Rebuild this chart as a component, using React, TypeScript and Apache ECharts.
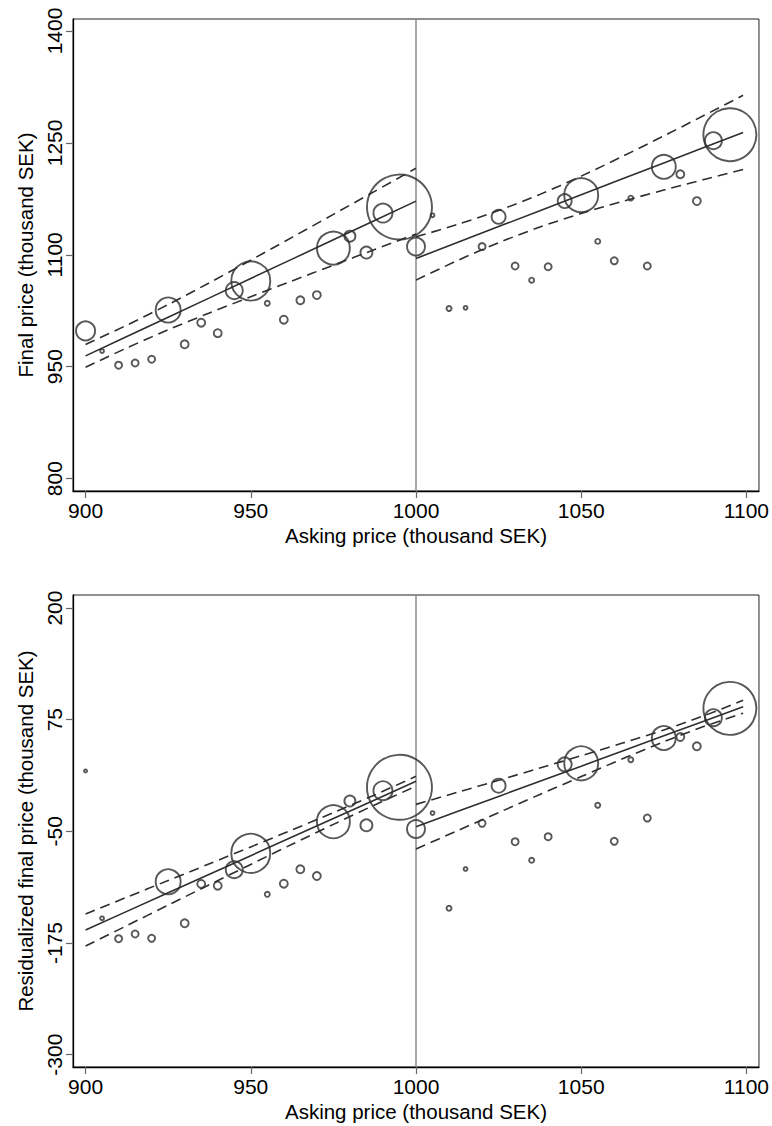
import React, { useEffect, useRef } from "react";
import * as echarts from "echarts";

// Bin midpoints of asking price (thousand SEK)
const xBins = [
  900, 905, 910, 915, 920, 925, 930, 935, 940, 945,
  950, 955, 960, 965, 970, 975, 980, 985, 990, 995,
  1000, 1005, 1010, 1015, 1020, 1025, 1030, 1035, 1040, 1045,
  1050, 1055, 1060, 1065, 1070, 1075, 1080, 1085, 1090, 1095,
];

// Mean final price per bin (top panel)
const finalPrice = [
  998, 971, 952, 955, 960, 1026, 980, 1009, 995, 1052,
  1065, 1035, 1013, 1039, 1046, 1109, 1125, 1103, 1156, 1164,
  1111, 1153, 1028, 1029, 1111, 1151, 1085, 1066, 1084, 1172,
  1180, 1118, 1092, 1176, 1085, 1218, 1208, 1172, 1253, 1261,
];

// Mean residualized final price per bin (bottom panel)
const residPrice = [
  17.6, -147.3, -170.2, -164.9, -169.7, -106.4, -152.9, -108.9, -110.8, -92.9,
  -74.6, -120.5, -108.6, -92.5, -100, -39.2, -16, -43.2, -4.5, -0.7,
  -47.4, -29.5, -136.1, -92.1, -41, 1.1, -61.6, -82.4, -56, 25,
  26.2, -20.8, -61.1, 30.2, -35.1, 54.5, 55.6, 45.2, 77.2, 87.7,
];

// Number of sales per bin (marker weight)
const countsTop = [
  81, 2, 9, 9, 9, 144, 12, 12, 12, 64,
  361, 4, 12, 12, 12, 256, 25, 30, 81, 1024,
  72, 2, 4, 2, 9, 42, 9, 4, 9, 42,
  272, 4, 9, 4, 9, 132, 12, 12, 64, 676,
];
const countsBottom = [
  1, 2, 9, 9, 9, 144, 12, 12, 12, 64,
  361, 4, 12, 12, 12, 256, 25, 30, 81, 1024,
  72, 2, 4, 2, 9, 42, 9, 4, 9, 42,
  272, 4, 9, 4, 9, 132, 12, 12, 64, 676,
];

// Linear fits with confidence bands, below and above 1000
const fitXLeft = [900, 912.5, 925, 937.5, 950, 962.5, 975, 987.5, 1000];
const fitXRight = [1000, 1012.5, 1025, 1037.5, 1050, 1062.5, 1075, 1087.5, 1099];

const topFitLeft = [964.5, 990.4, 1016.4, 1042.3, 1068.3, 1094.2, 1120.1, 1146.1, 1172];
const topUpperLeft = [979.8, 1005.7, 1033.3, 1062.6, 1092.8, 1123.4, 1154.2, 1185.1, 1216];
const topLowerLeft = [949.2, 975.2, 999.5, 1022.1, 1043.8, 1065, 1086.1, 1107.1, 1128];
const topFitRight = [1095.1, 1116.4, 1137.8, 1159.1, 1180.5, 1201.8, 1223.1, 1244.5, 1264.1];
const topUpperRight = [1124.1, 1140.6, 1159.4, 1181, 1205.5, 1231.9, 1259.4, 1287.6, 1313.8];
const topLowerRight = [1066.1, 1092.2, 1116.2, 1137.2, 1155.5, 1171.7, 1186.8, 1201.4, 1214.4];

const botFitLeft = [-160.4, -139.6, -118.8, -98.0, -77.2, -56.4, -35.6, -14.8, 6.0];
const botUpperLeft = [-142.4, -123.7, -105.0, -86.3, -67.4, -48.4, -29.0, -9.2, 11.6];
const botLowerLeft = [-178.4, -155.5, -132.6, -109.7, -87.0, -64.4, -42.2, -20.4, 0.5];
const botFitRight = [-44.8, -27.8, -10.9, 6.1, 23.0, 40.0, 56.9, 73.9, 89.5];
const botUpperRight = [-19.8, -6.3, 7.2, 20.9, 34.7, 48.8, 63.5, 79.9, 96.7];
const botLowerRight = [-69.8, -49.3, -29.0, -8.7, 11.3, 31.2, 50.3, 67.9, 82.3];

const cutoff = 1000;

// Tick labels
const xTicks = [900, 950, 1000, 1050, 1100];
const topYTicks = [800, 950, 1100, 1250, 1400];
const botYTicks = [-300, -175, -50, 75, 200];

const FONT = "Arial, 'Liberation Sans', Helvetica, sans-serif";
const INK = "#2e2e2e";

function pairs(xs: number[], ys: number[]) {
  return xs.map((x, i) => [x, ys[i]]);
}

const plain = (v: number) => String(v);

function makeX(gridIndex: number) {
  return {
    type: "value",
    gridIndex,
    min: 896.2,
    max: 1103.8,
    name: "Asking price (thousand SEK)",
    nameLocation: "middle",
    nameGap: 34,
    nameTextStyle: { fontSize: 20.5, color: "#000", fontFamily: FONT },
    axisLine: { show: true, onZero: false, lineStyle: { color: "#000", width: 1.3 } },
    axisTick: { show: true, customValues: xTicks, length: 7, lineStyle: { color: "#666", width: 1.2 } },
    axisLabel: { customValues: xTicks, formatter: plain, fontSize: 21, margin: 9, color: "#000", fontFamily: FONT },
    splitLine: { show: false },
  };
}

function makeY(gridIndex: number, min: number, max: number, ticks: number[], name: string) {
  return {
    type: "value",
    gridIndex,
    min,
    max,
    name,
    nameLocation: "middle",
    nameRotate: 90,
    nameGap: 34,
    nameTextStyle: { fontSize: 20.5, color: "#000", fontFamily: FONT },
    axisLine: { show: true, onZero: false, lineStyle: { color: "#000", width: 1.3 } },
    axisTick: { show: true, customValues: ticks, length: 7, lineStyle: { color: "#666", width: 1.2 } },
    axisLabel: { customValues: ticks, formatter: plain, rotate: 90, fontSize: 21, margin: 8, color: "#000", fontFamily: FONT },
    splitLine: { show: false },
  };
}

function panelSeries(idx: number, ys: number[], counts: number[], fits: number[][]) {
  const [fl, ul, ll, fr, ur, lr] = fits;
  const base = { xAxisIndex: idx, yAxisIndex: idx, silent: true };
  const solid = (xs: number[], vs: number[]) => ({
    ...base,
    type: "line",
    data: pairs(xs, vs),
    showSymbol: false,
    symbol: "none",
    lineStyle: { color: INK, width: 1.6, type: "solid" },
    z: 3,
  });
  const dashed = (xs: number[], vs: number[]) => ({
    ...base,
    type: "line",
    data: pairs(xs, vs),
    showSymbol: false,
    symbol: "none",
    smooth: 0.3,
    lineStyle: { color: INK, width: 1.6, type: [10, 6] },
    z: 3,
  });
  return [
    {
      ...base,
      type: "scatter",
      data: xBins.map((x, i) => [x, ys[i], counts[i]]),
      symbol: "circle",
      symbolSize: (v: number[]) => 2 * Math.sqrt(v[2]) + 1,
      itemStyle: { color: "rgba(0,0,0,0)", borderColor: INK, borderWidth: 1.9 },
      z: 4,
      markLine: {
        silent: true,
        symbol: "none",
        label: { show: false },
        lineStyle: { color: "#8a8a8a", width: 1.5, type: "solid" },
        data: [{ xAxis: cutoff }],
        z: 2,
      },
    },
    solid(fitXLeft, fl),
    dashed(fitXLeft, ul),
    dashed(fitXLeft, ll),
    solid(fitXRight, fr),
    dashed(fitXRight, ur),
    dashed(fitXRight, lr),
  ];
}

export default function App() {
  const ref = useRef<HTMLDivElement>(null);
  useEffect(() => {
    if (!ref.current) return;
    const chart = echarts.init(ref.current, null, { renderer: "svg" });
    const option = {
      animation: false,
      backgroundColor: "#ffffff",
      grid: [
        { left: 73, top: 19, width: 687, height: 472, show: true, borderColor: "#222", borderWidth: 1, backgroundColor: "transparent" },
        { left: 73, top: 595, width: 687, height: 472, show: true, borderColor: "#222", borderWidth: 1, backgroundColor: "transparent" },
      ],
      xAxis: [makeX(0), makeX(1)],
      yAxis: [
        makeY(0, 783.4, 1416.1, topYTicks, "Final price (thousand SEK)"),
        makeY(1, -313.8, 214.6, botYTicks, "Residualized final price (thousand SEK)"),
      ],
      series: [
        ...panelSeries(0, finalPrice, countsTop, [
          topFitLeft, topUpperLeft, topLowerLeft, topFitRight, topUpperRight, topLowerRight,
        ]),
        ...panelSeries(1, residPrice, countsBottom, [
          botFitLeft, botUpperLeft, botLowerLeft, botFitRight, botUpperRight, botLowerRight,
        ]),
      ],
    };
    chart.setOption(option as any);
    return () => chart.dispose();
  }, []);
  return (
    <div
      ref={ref}
      style={{ position: "absolute", left: 0, top: 0, width: 772, height: 1126 }}
    />
  );
}
